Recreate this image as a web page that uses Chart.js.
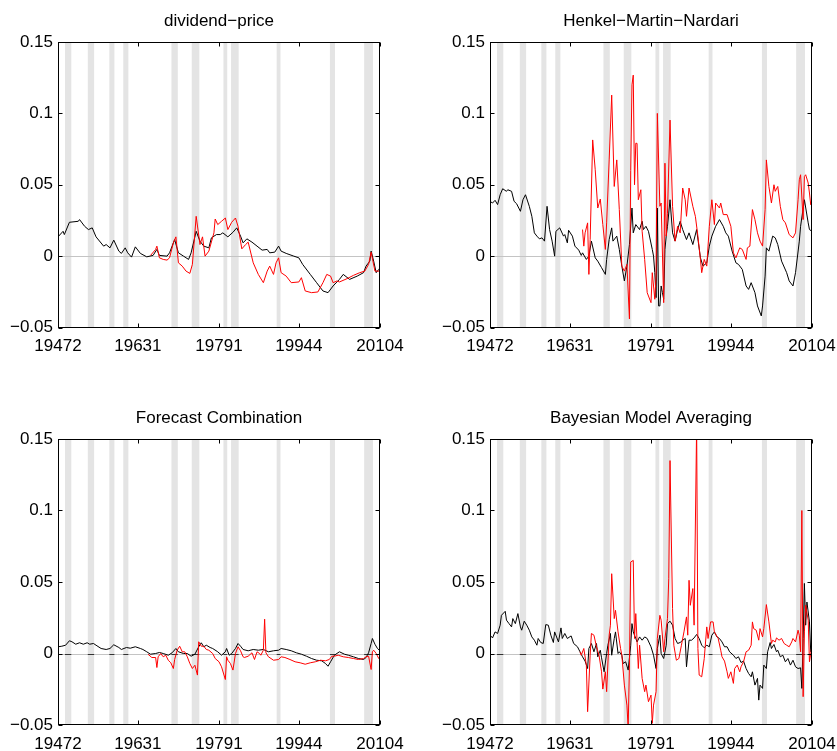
<!DOCTYPE html>
<html>
<head>
<meta charset="utf-8">
<script src="https://cdn.jsdelivr.net/npm/chart.js@4.4.1/dist/chart.umd.min.js"></script>
<style>
  html, body { margin: 0; padding: 0; background: #fff; }
  body { position: relative; width: 837px; height: 751px; overflow: hidden; }
  canvas { position: absolute; }
</style>
</head>
<body>
<canvas id="dpChart" width="418" height="375" style="left:0;top:0"></canvas>
<canvas id="hmnChart" width="420" height="375" style="left:432px;top:0"></canvas>
<canvas id="fcChart" width="418" height="354" style="left:0;top:397px"></canvas>
<canvas id="bmaChart" width="420" height="354" style="left:432px;top:397px"></canvas>
<script>
// Quarters counted from 1947Q2 (= 0) to 2010Q4 (= 254)
const firstYear = 1947, firstQuarter = 2, lastIndex = 254;

const xTickQuarters = [0, 63, 127, 190, 254];
const xTickLabels = ['19472', '19631', '19791', '19944', '20104'];
const yTickValues = [-0.05, 0, 0.05, 0.1, 0.15];
const yTickLabels = ['\u22120.05', '0', '0.05', '0.1', '0.15'];

// NBER recessions, peak and trough quarters
const recessionPeaks = ['1948Q4', '1953Q2', '1957Q3', '1960Q2', '1969Q4', '1973Q4', '1980Q1', '1981Q3', '1990Q3', '2001Q1', '2007Q4'];
const recessionTroughs = ['1949Q4', '1954Q2', '1958Q2', '1961Q1', '1970Q4', '1975Q1', '1980Q3', '1982Q4', '1991Q1', '2001Q4', '2009Q2'];

// [quarter index, value]
const dpInSample = [[0,0.0135],[4,0.0174],[5,0.0151],[9,0.0237],[16,0.0244],[17,0.0256],[21,0.0209],[24,0.0186],[27,0.0198],[30,0.0135],[36,0.0070],[38,0.0081],[41,0.0058],[44,0.0112],[48,0.0035],[50,0.0019],[53,0.0058],[55,0.0023],[58,-0.0007],[61,0.0065],[65,0.0019],[70,-0.0005],[75,0.0005],[78,0.0047],[80,0.0005],[86,0.0],[88,0.0023],[92,0.0116],[95,0.0023],[99,0.0],[103,-0.0023],[105,0.0023],[109,0.0174],[112,0.0105],[115,0.0070],[119,0.0058],[121,0.0128],[125,0.0151],[128,0.0151],[130,0.0163],[134,0.0135],[138,0.0167],[141,0.0198],[144,0.0140],[146,0.0093],[149,0.0121],[153,0.0098],[157,0.0070],[161,0.0042],[165,0.0047],[167,0.0023],[171,0.0028],[174,0.0070],[176,0.0035],[180,0.0019],[186,0.0],[190,-0.0012],[193,-0.0058],[199,-0.0128],[204,-0.0186],[209,-0.0244],[213,-0.0256],[217,-0.0209],[222,-0.0163],[225,-0.0128],[230,-0.0163],[236,-0.0140],[241,-0.0116],[243,-0.0070],[246,-0.0035],[247,0.0035],[249,-0.0035],[251,-0.0116],[253,-0.0093],[254,-0.0098]];
const dpOutOfSample = [[73,0.0005],[77,0.0047],[78,0.0070],[80,-0.0012],[83,-0.0023],[86,-0.0028],[88,-0.0012],[91,0.0093],[93,0.0135],[95,-0.0047],[98,-0.0070],[101,-0.0105],[104,-0.0121],[106,-0.0058],[109,0.0279],[112,0.0081],[114,0.0135],[116,0.0],[119,0.0035],[123,0.0163],[124,0.0260],[126,0.0221],[129,0.0244],[132,0.0267],[134,0.0186],[137,0.0237],[140,0.0267],[142,0.0209],[145,0.0051],[148,0.0081],[150,0.0098],[154,-0.0047],[158,-0.0128],[162,-0.0186],[165,-0.0105],[167,-0.0070],[170,-0.0128],[172,-0.0047],[174,-0.0012],[176,-0.0116],[180,-0.0140],[184,-0.0186],[190,-0.0181],[192,-0.0151],[195,-0.0244],[200,-0.0256],[205,-0.0251],[209,-0.0186],[212,-0.0128],[215,-0.0140],[217,-0.0186],[220,-0.0174],[222,-0.0181],[228,-0.0158],[233,-0.0135],[238,-0.0116],[242,-0.0105],[245,-0.0058],[247,0.0028],[250,-0.0105],[254,-0.0105]];

const hmnInSample = [[0,0.0384],[2,0.0372],[4,0.0391],[6,0.0361],[8,0.0430],[10,0.0472],[13,0.0454],[14,0.0465],[17,0.0454],[19,0.0384],[21,0.0367],[24,0.0314],[26,0.0395],[28,0.0430],[31,0.0349],[33,0.0279],[35,0.0163],[37,0.0140],[39,0.0121],[41,0.0128],[43,0.0105],[45,0.0349],[47,0.0186],[49,0.0105],[51,0.0],[52,0.0174],[55,0.0198],[58,0.0140],[59,0.0151],[61,0.0093],[62,0.0181],[65,0.0140],[67,0.0070],[70,0.0042],[72,0.0005],[73,0.0023],[76,-0.0023],[78,0.0],[80,0.0105],[83,-0.0012],[85,-0.0035],[88,-0.0081],[91,-0.0128],[92,-0.0023],[94,0.0116],[96,0.0198],[97,0.0105],[100,0.0140],[102,0.0047],[104,-0.0070],[106,-0.0174],[108,-0.0070],[110,0.0081],[112,0.0337],[113,0.0163],[115,0.0221],[118,0.0186],[120,0.0244],[121,0.0186],[123,0.0209],[125,0.0174],[128,0.0047],[129,0.0],[130,-0.0116],[131,-0.0291],[132,0.0337],[133,-0.0349],[134,-0.0349],[135,-0.0209],[136,-0.0256],[137,-0.0302],[138,0.0047],[139,0.0140],[140,0.0209],[142,0.0395],[144,0.0163],[146,0.0105],[148,0.0186],[150,0.0244],[152,0.0186],[155,0.0116],[157,0.0163],[160,0.0081],[163,0.0186],[166,-0.0012],[168,-0.0070],[171,-0.0047],[173,0.0070],[175,0.0140],[178,0.0209],[181,0.0256],[184,0.0209],[186,0.0163],[188,0.0140],[191,0.0035],[194,-0.0047],[196,-0.0058],[199,-0.0093],[202,-0.0209],[204,-0.0233],[206,-0.0186],[209,-0.0256],[211,-0.0349],[214,-0.0419],[215,-0.0349],[217,-0.0140],[218,0.0058],[220,0.0035],[223,0.0140],[225,0.0128],[227,0.0081],[230,-0.0035],[234,-0.0116],[236,-0.0174],[239,-0.0209],[241,-0.0116],[244,0.0105],[245,0.0209],[248,0.0395],[251,0.0233],[252,0.0186],[254,0.0174]];
const hmnOutOfSample = [[73,0.0186],[74,0.0070],[75,0.0163],[77,0.0233],[78,-0.0128],[79,0.0116],[81,0.0814],[83,0.0605],[85,0.0337],[87,0.0400],[89,0.0221],[91,0.0047],[92,0.0233],[94,0.0674],[96,0.1128],[98,0.0488],[100,0.0674],[102,0.0326],[104,-0.0070],[106,-0.0105],[108,-0.0058],[110,-0.0440],[111,0.0600],[112,0.1200],[113,0.1268],[114,0.0500],[115,0.0791],[116,0.0790],[117,0.0395],[119,0.0465],[120,0.0174],[122,-0.0023],[124,-0.0256],[127,-0.0326],[128,-0.0116],[130,-0.0302],[131,-0.0140],[132,0.1000],[134,0.0349],[135,0.0372],[137,-0.0326],[138,0.0651],[139,0.0140],[140,0.0300],[142,0.0953],[144,0.0349],[146,0.0105],[148,0.0209],[150,0.0163],[152,0.0477],[154,0.0395],[155,0.0279],[157,0.0477],[160,0.0349],[162,0.0279],[164,0.0140],[166,-0.0023],[167,-0.0116],[169,-0.0023],[171,-0.0070],[173,0.0209],[175,0.0395],[177,0.0221],[178,0.0372],[181,0.0337],[182,0.0372],[184,0.0291],[187,0.0291],[190,0.0209],[192,0.0023],[194,-0.0012],[196,0.0035],[197,0.0058],[199,0.0047],[202,-0.0023],[203,0.0058],[205,0.0070],[207,0.0326],[209,0.0256],[211,0.0163],[213,0.0105],[215,0.0070],[217,0.0326],[218,0.0674],[220,0.0488],[222,0.0372],[224,0.0500],[225,0.0454],[227,0.0488],[229,0.0349],[231,0.0256],[233,0.0233],[236,0.0151],[239,0.0128],[241,0.0163],[243,0.0395],[244,0.0535],[245,0.0570],[247,0.0256],[248,0.0558],[249,0.0570],[251,0.0512],[252,0.0442],[253,0.0360],[254,0.0410]];

const fcInSample = [[0,0.0047],[3,0.0051],[6,0.0058],[9,0.0089],[11,0.0082],[14,0.0065],[17,0.0075],[20,0.0065],[23,0.0075],[25,0.0065],[28,0.0070],[30,0.0058],[34,0.0035],[38,0.0028],[41,0.0035],[44,0.0061],[48,0.0042],[50,0.0028],[54,0.0042],[57,0.0037],[61,0.0047],[65,0.0035],[67,0.0028],[70,0.0012],[73,-0.0005],[77,0.0],[80,0.0007],[83,0.0],[87,-0.0012],[90,0.0005],[93,0.0035],[95,0.0012],[99,0.0],[102,0.0],[105,-0.0019],[108,-0.0005],[111,0.0047],[113,0.0075],[115,0.0047],[117,0.0058],[120,0.0042],[122,0.0035],[126,0.0012],[129,-0.0012],[132,0.0012],[133,0.0035],[135,-0.0012],[137,0.0],[140,0.0035],[142,0.0070],[144,0.0051],[146,0.0028],[150,0.0019],[154,0.0028],[158,0.0023],[162,0.0028],[166,0.0012],[170,0.0019],[174,0.0023],[176,0.0035],[180,0.0028],[184,0.0019],[188,0.0005],[192,-0.0005],[196,-0.0019],[200,-0.0035],[204,-0.0047],[208,-0.0051],[211,-0.0070],[213,-0.0089],[215,-0.0058],[218,-0.0012],[222,0.0012],[226,-0.0005],[229,-0.0012],[233,-0.0023],[237,-0.0035],[241,-0.0042],[243,-0.0028],[245,0.0005],[247,0.0070],[248,0.0105],[250,0.0065],[252,0.0035],[254,0.0019]];
const fcOutOfSample = [[71,-0.0005],[74,-0.0028],[77,-0.0028],[78,-0.0098],[79,-0.0023],[81,0.0],[83,-0.0023],[85,-0.0012],[87,-0.0047],[89,-0.0065],[91,-0.0105],[92,-0.0042],[94,0.0023],[96,0.0051],[98,0.0012],[100,0.0012],[102,-0.0023],[104,-0.0070],[106,-0.0105],[108,-0.0082],[110,-0.0151],[111,0.0082],[113,0.0051],[115,0.0051],[117,0.0028],[119,0.0023],[122,0.0],[124,-0.0035],[127,-0.0058],[129,-0.0093],[132,-0.0182],[133,-0.0023],[134,-0.0047],[136,-0.0070],[138,-0.0116],[140,0.0],[142,0.0047],[144,0.0019],[146,-0.0023],[147,-0.0028],[150,-0.0019],[153,0.0005],[155,-0.0042],[157,0.0012],[159,0.0],[160,-0.0012],[162,0.0023],[163,0.0240],[164,0.0005],[166,-0.0023],[170,-0.0047],[174,-0.0042],[176,-0.0023],[179,-0.0028],[183,-0.0042],[187,-0.0058],[191,-0.0065],[195,-0.0075],[199,-0.0065],[203,-0.0058],[207,-0.0047],[211,-0.0051],[214,-0.0042],[216,-0.0019],[218,-0.0019],[221,-0.0012],[225,-0.0023],[229,-0.0028],[233,-0.0035],[237,-0.0042],[241,-0.0035],[243,-0.0023],[245,-0.0019],[247,-0.0112],[248,0.0012],[249,0.0023],[251,0.0],[253,-0.0035],[254,-0.0019]];

const bmaInSample = [[0,0.0128],[2,0.0109],[4,0.0151],[6,0.0140],[8,0.0198],[9,0.0267],[12,0.0295],[13,0.0233],[15,0.0209],[17,0.0186],[18,0.0244],[20,0.0209],[22,0.0279],[24,0.0186],[25,0.0163],[27,0.0226],[29,0.0198],[31,0.0163],[33,0.0116],[35,0.0093],[37,0.0058],[38,0.0105],[40,0.0077],[42,0.0070],[44,0.0202],[46,0.0198],[48,0.0128],[50,0.0077],[51,0.0151],[54,0.0081],[56,0.0179],[57,0.0105],[59,0.0140],[61,0.0105],[64,0.0123],[66,0.0070],[69,0.0047],[71,0.0012],[73,-0.0023],[75,-0.0053],[77,-0.0105],[78,0.0035],[80,0.0070],[82,0.0012],[84,0.0070],[85,-0.0023],[87,0.0023],[88,-0.0030],[90,-0.0128],[92,0.0],[93,0.0058],[95,0.0140],[96,-0.0012],[98,0.0105],[99,0.0151],[101,0.0],[102,0.0012],[104,-0.0012],[105,-0.0070],[107,-0.0058],[109,-0.0116],[111,0.0058],[112,0.0209],[113,0.0151],[115,0.0105],[116,0.0081],[118,0.0116],[120,0.0093],[122,0.0116],[124,0.0105],[127,0.0047],[129,-0.0012],[131,-0.0105],[132,0.0035],[134,0.0128],[135,0.0],[137,-0.0035],[139,0.0058],[140,0.0209],[142,0.0226],[144,0.0198],[146,0.0105],[148,0.0070],[150,0.0077],[152,0.0093],[154,0.0105],[155,-0.0093],[157,0.0093],[159,0.0093],[161,0.0109],[163,0.0133],[165,0.0105],[167,0.0058],[169,0.0040],[171,0.0058],[173,0.0047],[175,0.0128],[177,0.0151],[179,0.0116],[181,0.0105],[183,0.0081],[185,0.0047],[187,0.0047],[189,0.0012],[192,-0.0012],[194,-0.0035],[196,-0.0023],[198,-0.0063],[200,-0.0053],[202,-0.0105],[204,-0.0140],[206,-0.0163],[207,-0.0128],[209,-0.0221],[211,-0.0174],[212,-0.0326],[213,-0.0221],[215,-0.0244],[216,-0.0081],[218,-0.0105],[219,0.0012],[221,0.0077],[222,0.0035],[224,0.0063],[226,0.0012],[227,0.0023],[229,-0.0023],[231,-0.0012],[233,-0.0058],[235,-0.0035],[237,-0.0081],[239,-0.0047],[241,-0.0093],[243,-0.0105],[245,-0.0100],[246,-0.0244],[247,0.0105],[248,0.0490],[249,0.0198],[250,0.0360],[252,0.0221],[253,0.0012],[254,0.0030]];
const bmaOutOfSample = [[71,0.0012],[72,-0.0012],[74,0.0035],[76,-0.0081],[77,-0.0407],[79,-0.0012],[80,0.0140],[82,0.0128],[84,0.0047],[86,-0.0012],[88,-0.0128],[89,-0.0249],[91,-0.0128],[92,-0.0267],[94,0.0128],[95,0.0198],[96,0.0558],[98,0.0244],[99,0.0302],[101,0.0151],[103,0.0035],[104,-0.0012],[106,-0.0221],[108,-0.0361],[109,-0.0520],[110,-0.0081],[111,0.0640],[113,0.0651],[114,0.0105],[115,0.0279],[117,-0.0105],[118,0.0058],[120,-0.0174],[122,-0.0267],[123,-0.0221],[125,-0.0337],[127,-0.0291],[128,-0.0488],[129,-0.0361],[131,-0.0267],[132,0.0105],[134,0.0267],[135,0.0233],[137,0.0012],[138,0.0105],[140,0.0244],[141,0.0523],[142,0.1349],[144,0.0314],[145,0.0058],[147,-0.0047],[149,-0.0035],[151,0.0058],[153,0.0151],[155,0.0256],[156,0.0128],[157,0.0512],[158,0.0337],[160,0.0454],[161,0.0198],[163,0.1600],[164,0.0035],[165,-0.0151],[167,-0.0163],[169,-0.0035],[171,0.0186],[172,0.0105],[174,0.0221],[176,0.0221],[177,0.0151],[180,0.0105],[182,0.0023],[183,-0.0023],[185,-0.0053],[187,-0.0128],[188,-0.0174],[190,-0.0128],[192,-0.0209],[193,-0.0105],[195,-0.0081],[197,-0.0128],[198,-0.0093],[200,-0.0058],[202,0.0012],[204,0.0023],[206,0.0058],[207,0.0221],[208,0.0174],[210,0.0163],[212,0.0093],[213,0.0174],[215,0.0116],[216,0.0174],[218,0.0342],[220,0.0221],[222,0.0070],[223,0.0093],[225,0.0081],[226,0.0109],[228,0.0093],[230,0.0105],[232,0.0070],[234,0.0058],[236,0.0047],[238,0.0081],[239,0.0105],[241,0.0081],[243,0.0163],[244,0.0128],[245,0.0012],[246,0.1000],[247,-0.0302],[248,0.0151],[249,0.0337],[251,0.0233],[252,-0.0058],[254,0.0058]];

Chart.defaults.font.family = "'Liberation Sans', Arial, Helvetica, sans-serif";
Chart.defaults.font.size = 17;
Chart.defaults.color = '#000';

function quarterIndex(label) {
  const year = parseInt(label.slice(0, 4));
  const q = parseInt(label.slice(5));
  return (year - firstYear) * 4 + (q - firstQuarter);
}

function toPoints(pairs) {
  return pairs.map(p => ({ x: p[0], y: p[1] }));
}

// shading, zero line, box and inward ticks
const panelPlugin = {
  id: 'panel',
  beforeDatasetsDraw(chart, args, opts) {
    const { ctx, chartArea: a, scales: { x, y } } = chart;
    ctx.save();
    ctx.beginPath();
    ctx.rect(a.left, a.top, a.right - a.left, a.bottom - a.top);
    ctx.clip();

    ctx.fillStyle = '#e4e4e4';
    const bands = [];
    recessionPeaks.forEach((p, i) => {
      const x0 = x.getPixelForValue(quarterIndex(p) - 0.5);
      const x1 = x.getPixelForValue(quarterIndex(recessionTroughs[i]) + 0.5);
      bands.push([x0, x1]);
      ctx.fillRect(x0, a.top, x1 - x0, a.bottom - a.top);
    });

    const y0 = Math.round(y.getPixelForValue(0)) + 0.5;
    ctx.strokeStyle = '#c4c4c4';
    ctx.lineWidth = 1;
    ctx.beginPath();
    ctx.moveTo(a.left, y0);
    ctx.lineTo(a.right, y0);
    ctx.stroke();

    if (opts.baseMarks) {
      ctx.strokeStyle = '#333';
      bands.forEach(([x0, x1]) => {
        ctx.beginPath();
        ctx.moveTo(x0, y0);
        ctx.lineTo(x1, y0);
        ctx.stroke();
      });
    }
    ctx.restore();
  },
  afterDraw(chart) {
    const { ctx, chartArea: a, scales: { x, y } } = chart;
    const L = Math.round(a.left) + 0.5, R = Math.round(a.right) - 0.5;
    const T = Math.round(a.top) + 0.5, B = Math.round(a.bottom) - 0.5;
    const tick = 4;
    ctx.save();
    ctx.strokeStyle = '#000';
    ctx.lineWidth = 1;
    ctx.beginPath();
    xTickQuarters.forEach(q => {
      const px = Math.round(x.getPixelForValue(q)) + 0.5;
      ctx.moveTo(px, B); ctx.lineTo(px, B - tick);
      ctx.moveTo(px, T); ctx.lineTo(px, T + tick);
    });
    yTickValues.forEach(v => {
      const py = Math.round(y.getPixelForValue(v)) + 0.5;
      ctx.moveTo(L, py); ctx.lineTo(L + tick, py);
      ctx.moveTo(R, py); ctx.lineTo(R - tick, py);
    });
    ctx.stroke();
    ctx.strokeRect(L, T, R - L, B - T);
    ctx.restore();
  }
};

function makePanel(id, title, inSample, outOfSample, axisHeight, rightPad, baseMarks) {
  return new Chart(document.getElementById(id), {
    type: 'line',
    data: {
      datasets: [
        {
          data: toPoints(outOfSample),
          borderColor: '#ff0000',
          borderWidth: 1,
          pointRadius: 0,
          tension: 0
        },
        {
          data: toPoints(inSample),
          borderColor: '#000000',
          borderWidth: 1,
          pointRadius: 0,
          tension: 0
        }
      ]
    },
    options: {
      responsive: false,
      animation: false,
      events: [],
      layout: { padding: { left: 0, right: rightPad, top: 0, bottom: 0 } },
      plugins: {
        legend: { display: false },
        tooltip: { enabled: false },
        title: {
          display: true,
          text: title,
          fullSize: false,
          color: '#000',
          font: { size: 17, weight: 'normal', lineHeight: 1.2 },
          padding: { top: 11, bottom: 10.6 }
        },
        panel: { baseMarks }
      },
      scales: {
        x: {
          type: 'linear',
          min: 0,
          max: lastIndex,
          grid: { display: false, drawTicks: false },
          border: { display: false },
          afterBuildTicks: scale => { scale.ticks = xTickQuarters.map(v => ({ value: v })); },
          afterFit: scale => { scale.height = axisHeight; },
          ticks: {
            maxRotation: 0,
            autoSkip: false,
            padding: 9,
            callback: v => xTickLabels[xTickQuarters.indexOf(v)]
          }
        },
        y: {
          min: -0.05,
          max: 0.15,
          grid: { display: false, drawTicks: false },
          border: { display: false },
          afterBuildTicks: scale => { scale.ticks = yTickValues.map(v => ({ value: v })); },
          afterFit: scale => { scale.width = 58; },
          ticks: {
            padding: 5,
            callback: v => yTickLabels[yTickValues.indexOf(v)]
          }
        }
      }
    },
    plugins: [panelPlugin]
  });
}

makePanel('dpChart', 'dividend\u2212price', dpInSample, dpOutOfSample, 47.5, 38, false);
makePanel('hmnChart', 'Henkel\u2212Martin\u2212Nardari', hmnInSample, hmnOutOfSample, 47.5, 40, false);
makePanel('fcChart', 'Forecast Combination', fcInSample, fcOutOfSample, 26, 38, true);
makePanel('bmaChart', 'Bayesian Model Averaging', bmaInSample, bmaOutOfSample, 26, 40, true);
</script>
</body>
</html>
